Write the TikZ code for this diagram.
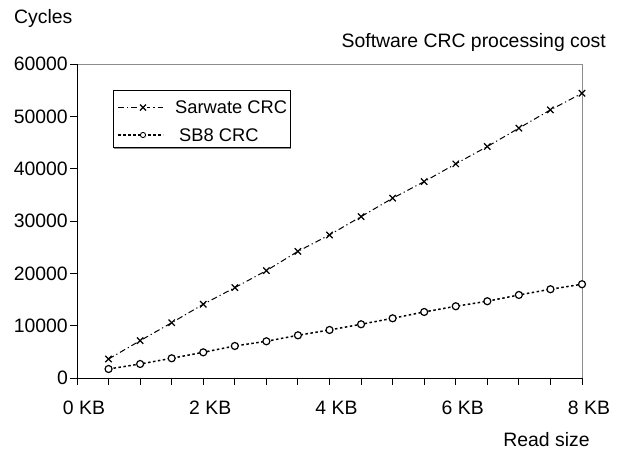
\documentclass[tikz,border=0pt]{standalone}
\usepackage{fontspec}
\setmainfont{Liberation Sans}
\usetikzlibrary{plotmarks}
\begin{document}
\begin{tikzpicture}[x=1pt,y=-1pt,
  lbl/.style={inner sep=0pt,font=\fontsize{19.4}{21}\selectfont},
  leglbl/.style={inner sep=0pt,font=\fontsize{18.3}{20}\selectfont},
  frameline/.style={draw=black!45,line width=1pt},
  axisline/.style={draw=black,line width=1pt},
  sarw/.style={line width=1pt,dash pattern=on 6pt off 3pt on 1.2pt off 3pt},
  sbline/.style={line width=1.5pt,dash pattern=on 2.5pt off 2.5pt},
  xmk/.style={line width=1.2pt},
  omk/.style={line width=1.2pt,fill=white}]
\useasboundingbox (0,0) rectangle (620,451);
% frame
\draw[frameline] (77,64) -- (582,64) -- (582,378);
% y ticks and labels
\foreach \v/\t in {0/0,10/10000,20/20000,30/30000,40/40000,50/50000,60/60000}{
  \draw[axisline] (70,{378-\v*5.2333}) -- (77,{378-\v*5.2333});
  \node[lbl,anchor=east] (yl\v) at (68,{378-\v*5.2333}) {\t};
}
% x ticks
\foreach \k in {0,...,16}{
  \draw[axisline] ({77+\k*31.5625},378) -- ({77+\k*31.5625},385);
}
\foreach \k/\t in {0/0 KB,2/2 KB,4/4 KB,6/6 KB,8/8 KB}{
  \node[lbl] (xl\k) at ({84+\k*63.125},408) {\t};
}
\draw[axisline] (77,64) -- (77,378) -- (582,378);
% titles
\node[lbl,anchor=west] (cyc) at (14,18) {Cycles};
\node[lbl,anchor=east] (ttl) at (606,42) {Software CRC processing cost};
\node[lbl] (rs) at (546.5,440) {Read size};
% data
\begin{scope}[shift={(77,378)},x=63.125pt,y=5.2333pt]
\draw[sarw,mark=x,mark size=4.5pt,mark options={solid,xmk}] plot coordinates {
(0.5,3.63)(1,7.13)(1.5,10.57)(2,14.09)(2.5,17.27)(3,20.52)(3.5,24.2)(4,27.34)
(4.5,30.84)(5,34.36)(5.5,37.53)(6,40.92)(6.5,44.23)(7,47.74)(7.5,51.24)(8,54.4)};
\draw[sbline,mark=*,mark size=3.5pt,mark options={solid,omk}] plot coordinates {
(0.5,1.72)(1,2.68)(1.5,3.77)(2,4.91)(2.5,6.12)(3,7.02)(3.5,8.16)(4,9.18)
(4.5,10.27)(5,11.41)(5.5,12.62)(6,13.71)(6.5,14.67)(7,15.87)(7.5,16.96)(8,17.92)};
\end{scope}
% legend
\draw[black!45,line width=1.6pt] (114,148) -- (291,148);
\draw[black,line width=0.9pt,fill=white] (113,90) rectangle (290,147);
\draw[sarw] (118,107.5) -- (163,107.5);
\node[inner sep=0pt] (lx) at (143,107.5) {};
\draw[xmk,fill=white,draw=none] (143,107.5) circle (4pt);
\draw[xmk] (140,104.5) -- (146,110.5) (140,110.5) -- (146,104.5);
\node[leglbl,anchor=west] (l1) at (175,107.5) {Sarwate CRC};
\draw[sbline,line width=1.2pt] (118,135) -- (163,135);
\draw[omk,line width=0.9pt] (143,135) circle (2.6pt);
\node[leglbl,anchor=west] (l2) at (179,135) {SB8 CRC};
\end{tikzpicture}
\end{document}
